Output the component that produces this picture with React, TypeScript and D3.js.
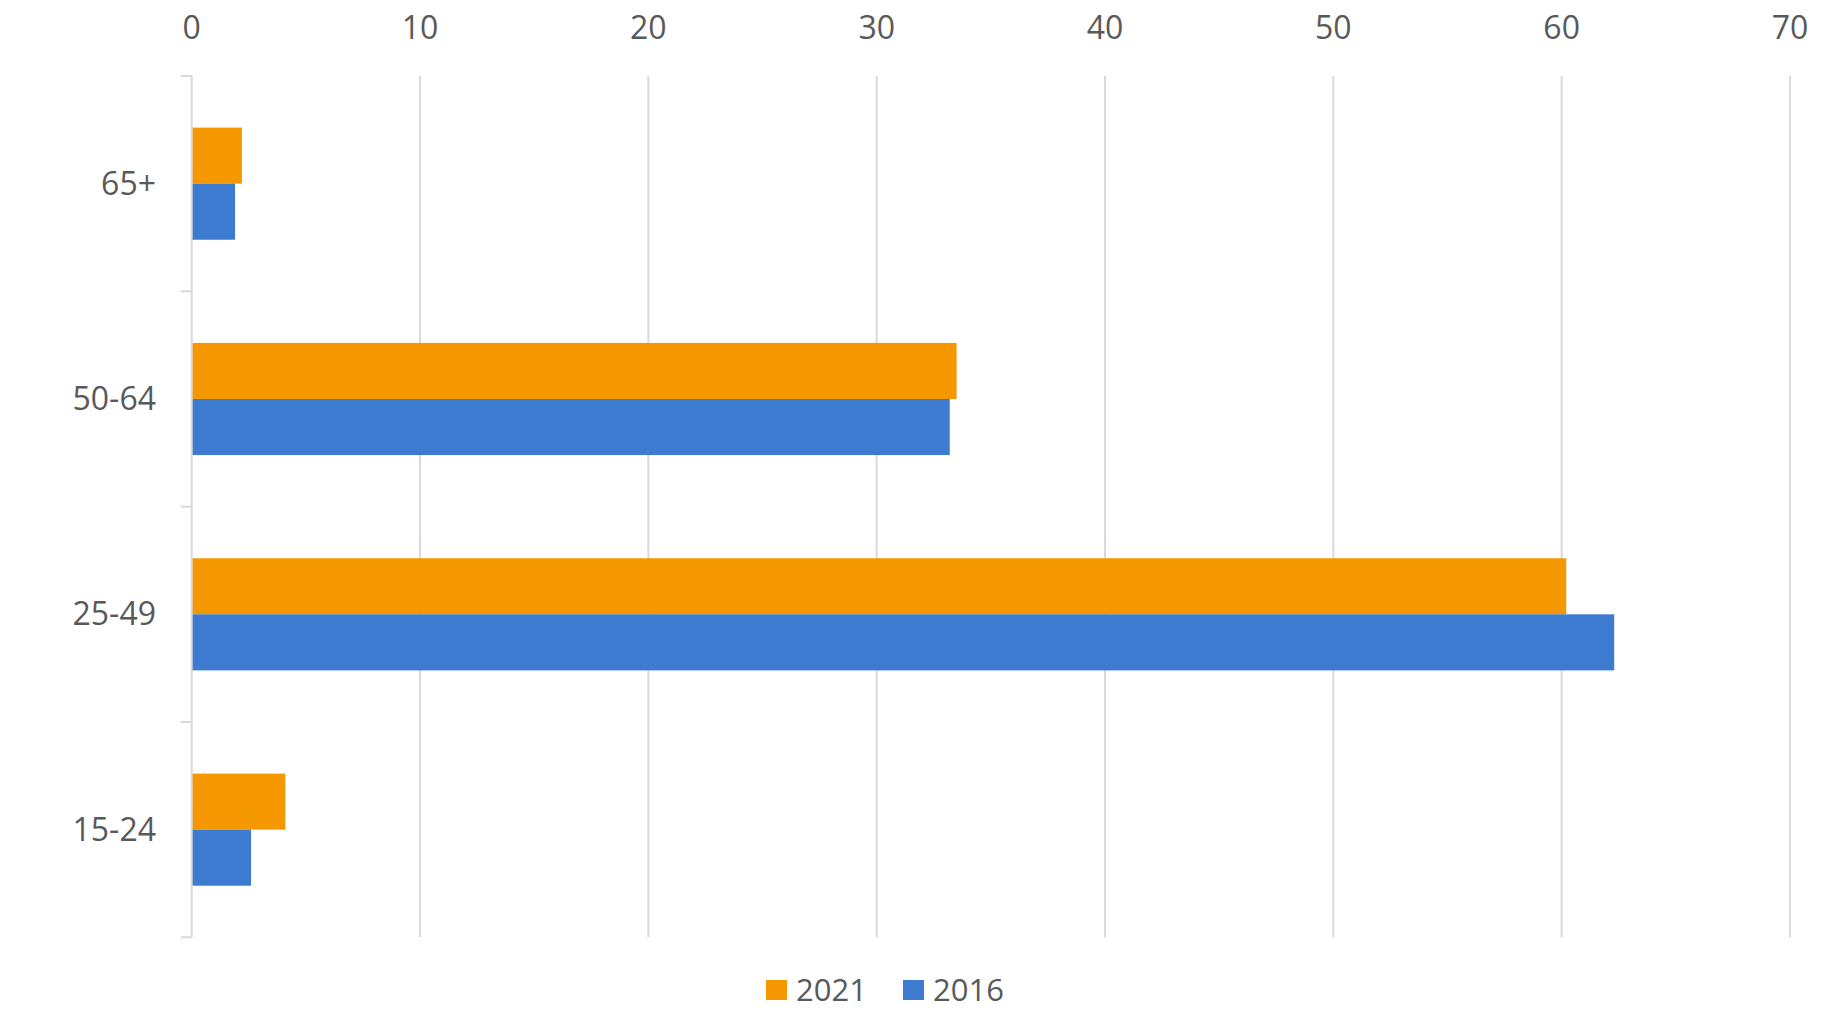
import React from "react";
import * as d3 from "d3";

const categories = ["65+", "50-64", "25-49", "15-24"];
const seriesNames = ["2021", "2016"];
const values2021 = [2.2, 33.5, 60.2, 4.1];
const values2016 = [1.9, 33.2, 62.3, 2.6];
const xTicks = [0, 10, 20, 30, 40, 50, 60, 70];
const colors = ["#F59800", "#3D7BD0"];

const W = 1838;
const H = 1028;
const left = 191.7;
const right = 1790;
const top = 76;
const bottom = 937.3;
const FONT = "'Open Sans', 'Noto Sans', sans-serif";
const TEXT = "#595959";
const GRID = "#D9D9D9";

export default function App() {
  const x = d3.scaleLinear().domain([0, 70]).range([left, right]);
  const y = d3.scaleBand<string>().domain(categories).range([top, bottom]).padding(0);
  const y1 = d3
    .scaleBand<string>()
    .domain(seriesNames)
    .range([0, y.bandwidth()])
    .paddingInner(0)
    .paddingOuter(0.92);
  const series = [values2021, values2016];

  const legendItems = [
    { name: seriesNames[0], color: colors[0], x: 766 },
    { name: seriesNames[1], color: colors[1], x: 903 },
  ];

  return (
    <div style={{ position: "absolute", left: 0, top: 0 }}>
      <svg width={W} height={H} style={{ display: "block", background: "#fff" }}>
        {/* gridlines */}
        {xTicks.filter((t) => t !== 0).map((t) => (
          <line key={t} x1={x(t)} x2={x(t)} y1={top} y2={bottom} stroke={GRID} strokeWidth={2} />
        ))}
        {/* bars */}
        {series.map((vals, si) =>
          categories.map((c, ci) => (
            <rect
              key={`${si}-${c}`}
              x={x(0)}
              y={(y(c) as number) + (y1(seriesNames[si]) as number)}
              width={x(vals[ci]) - x(0)}
              height={y1.bandwidth()}
              fill={colors[si]}
            />
          ))
        )}
        {/* vertical axis */}
        <line x1={x(0)} x2={x(0)} y1={top} y2={bottom} stroke={GRID} strokeWidth={2} />
        {[...categories.map((c) => y(c) as number), bottom].map((v, i) => (
          <line key={i} x1={x(0) - 11} x2={x(0)} y1={v} y2={v} stroke={GRID} strokeWidth={2} />
        ))}
        {/* x tick labels */}
        {xTicks.map((t) => (
          <text
            key={t}
            x={x(t)}
            y={39}
            textAnchor="middle"
            fontFamily={FONT}
            fontSize={32}
            fill={TEXT}
          >
            {t}
          </text>
        ))}
        {/* category labels */}
        {categories.map((c) => (
          <text
            key={c}
            x={156}
            y={(y(c) as number) + y.bandwidth() / 2 + 11}
            textAnchor="end"
            fontFamily={FONT}
            fontSize={32}
            fill={TEXT}
          >
            {c}
          </text>
        ))}
        {/* legend */}
        {legendItems.map((item) => (
          <g key={item.name}>
            <rect x={item.x} y={980} width={21} height={20} fill={item.color} />
            <text x={item.x + 30} y={1001} fontFamily={FONT} fontSize={31} fill={TEXT}>
              {item.name}
            </text>
          </g>
        ))}
      </svg>
    </div>
  );
}
